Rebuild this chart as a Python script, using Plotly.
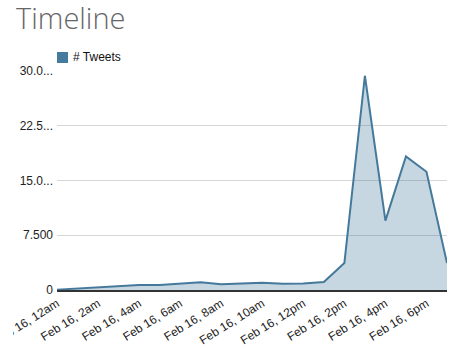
import plotly.graph_objects as go
import pandas as pd

times = pd.date_range("2014-02-16 00:00", periods=20, freq="h")
tweets = [0.05, 0.2, 0.4, 0.55, 0.7, 0.7, 0.9, 1.05, 0.8, 0.85, 1.0, 0.85, 0.9, 1.1,
          3.7, 29.35, 9.5, 18.3, 16.2, 3.7]

x_tick_vals = pd.date_range("2014-02-16 00:00", periods=10, freq="2h")
x_tick_text = ["Feb 16, 12am", "Feb 16, 2am", "Feb 16, 4am", "Feb 16, 6am", "Feb 16, 8am",
               "Feb 16, 10am", "Feb 16, 12pm", "Feb 16, 2pm", "Feb 16, 4pm", "Feb 16, 6pm"]
y_tick_vals = [0, 7.5, 15, 22.5, 30]
y_tick_text = ["0", "7.500", "15.0...", "22.5...", "30.0..."]

line_color = "#45799b"

W, H = 466, 350
L, R, T, B = 57, 19, 71, 60
pw, ph = W - L - R, H - T - B


def px(x):
    return (x - L) / pw


def py(y):
    return (H - B - y) / ph


fig = go.Figure()
fig.add_trace(go.Scatter(
    x=times, y=tweets, mode="lines", name="# Tweets",
    line=dict(color=line_color, width=2),
    fill="tozeroy", fillcolor="rgba(69,121,155,0.3)",
    showlegend=False,
))

# legend drawn manually
fig.add_shape(type="rect", xref="paper", yref="paper",
              x0=px(57), x1=px(68), y0=py(63), y1=py(52),
              fillcolor="#457b9d", line=dict(width=0))
fig.add_annotation(text="# Tweets", xref="paper", yref="paper",
                   x=px(71), y=py(57.5), xanchor="left", yanchor="middle",
                   showarrow=False, font=dict(size=12, color="#111"))

# chart container edge (the reference clips at its left edge)
fig.add_shape(type="rect", xref="paper", yref="paper", layer="above",
              x0=px(0), x1=px(13), y0=py(350), y1=py(292),
              fillcolor="white", line=dict(width=0))

fig.update_layout(
    width=W, height=H,
    margin=dict(l=L, r=R, t=T, b=B, autoexpand=False),
    paper_bgcolor="white", plot_bgcolor="white",
    font=dict(family="Arial, Liberation Sans", size=12, color="#222"),
    title=dict(text="Timeline", x=16 / W, xanchor="left", y=1 - 19 / H, yanchor="middle",
               font=dict(family="Open Sans", size=29, color="#666666", weight=300)),
    showlegend=False,
    xaxis=dict(range=[times[0], times[-1]], tickvals=x_tick_vals, ticktext=x_tick_text,
               tickangle=-32, showgrid=False, showline=True, linecolor="#333",
               linewidth=2, ticks="", zeroline=False, automargin=False,
               ticklabeloverflow="allow",
               tickfont=dict(size=12, color="#222")),
    yaxis=dict(range=[0, 30], tickvals=y_tick_vals, ticktext=y_tick_text,
               showgrid=True, gridcolor="#d6d6d6", gridwidth=1, zeroline=False,
               ticks="", ticklabelstandoff=3, automargin=False,
               tickfont=dict(size=12, color="#222")),
)

fig.write_html("out.html")
